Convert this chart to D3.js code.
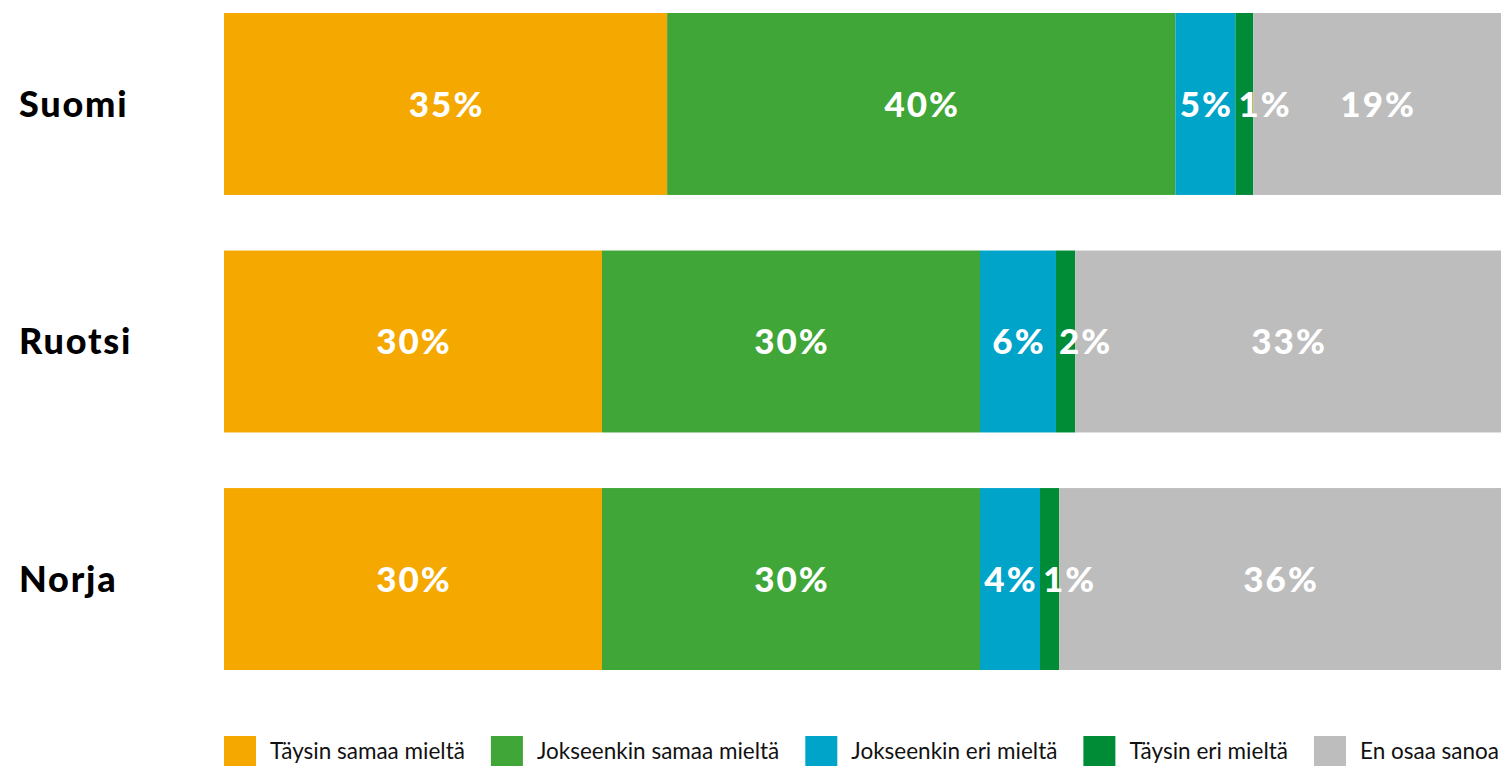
<!DOCTYPE html>
<html>
<head>
<meta charset="utf-8">
<script src="https://cdn.jsdelivr.net/npm/d3@7"></script>
<style>
  html, body { margin: 0; padding: 0; background: #fff; overflow: hidden; }
  svg { display: block; }
</style>
</head>
<body>
<svg id="chart" width="1506" height="766"></svg>
<script>
// ---- data ----
const countries = ["Suomi", "Ruotsi", "Norja"];
const answers = ["Täysin samaa mieltä", "Jokseenkin samaa mieltä", "Jokseenkin eri mieltä", "Täysin eri mieltä", "En osaa sanoa"];
const colors = ["#F5A800", "#40A637", "#00A4C9", "#008C37", "#BDBDBD"];
// segment shares (% of bar)
const suomiValues  = [34.7, 39.8, 4.7, 1.4, 19.4];
const ruotsiValues = [29.6, 29.6, 5.95, 1.5, 33.35];
const norjaValues  = [29.6, 29.6, 4.7, 1.5, 34.6];
// printed labels
const suomiLabels  = ["35%", "40%", "5%", "1%", "19%"];
const ruotsiLabels = ["30%", "30%", "6%", "2%", "33%"];
const norjaLabels  = ["30%", "30%", "4%", "1%", "36%"];

const valuesByCountry = [suomiValues, ruotsiValues, norjaValues];
const labelsByCountry = [suomiLabels, ruotsiLabels, norjaLabels];

const rows = countries.map((c, i) => {
  const obj = { country: c };
  answers.forEach((a, j) => { obj[a] = valuesByCountry[i][j]; });
  return obj;
});

const svg = d3.select("#chart");
const x = d3.scaleLinear().domain([0, 100]).range([224, 1501]);
const y = d3.scaleBand().domain(countries).range([13, 670]).paddingInner(0.234).paddingOuter(0);
const color = d3.scaleOrdinal().domain(answers).range(colors);

const stack = d3.stack().keys(answers);
const series = stack(rows);

const layers = svg.append("g").selectAll("g")
  .data(series).join("g")
  .attr("fill", d => color(d.key));

layers.selectAll("rect")
  .data(d => d.map(p => ({ p, key: d.key })))
  .join("rect")
  .attr("x", d => x(d.p[0]))
  .attr("width", d => x(d.p[1]) - x(d.p[0]))
  .attr("y", d => y(d.p.data.country))
  .attr("height", y.bandwidth());

// value labels
const labelFont = "Lato, 'Open Sans', sans-serif";
const LS = 2;
const lg = svg.append("g");
series.forEach((s, j) => {
  s.forEach((p, i) => {
    const t = lg.append("text")
      .text(labelsByCountry[i][j])
      .attr("fill", "#fff")
      .attr("font-family", labelFont)
      .attr("font-weight", 900)
      .attr("font-size", 35)
      .attr("letter-spacing", LS)
      .attr("y", y(p.data.country) + y.bandwidth() / 2)
      .attr("dy", "0.36em");
    const w = t.node().getComputedTextLength() - LS;
    const x0 = x(p[0]), x1 = x(p[1]);
    if (w + 4 < x1 - x0) {
      t.attr("x", (x0 + x1) / 2 - w / 2).attr("text-anchor", "start");
    } else {
      t.attr("x", x0 + 3).attr("text-anchor", "start");
    }
  });
});

// category labels
svg.append("g").selectAll("text")
  .data(countries).join("text")
  .attr("x", 19)
  .attr("y", d => y(d) + y.bandwidth() / 2)
  .attr("dy", "0.36em")
  .attr("font-family", labelFont)
  .attr("font-weight", 900)
  .attr("font-size", 36)
  .attr("letter-spacing", 1.8)
  .attr("fill", "#000")
  .text(d => d);

// legend
const legend = svg.append("g");
const items = answers.map(a => {
  const g = legend.append("g");
  g.append("rect").attr("width", 32).attr("height", 32).attr("fill", color(a));
  const t = g.append("text")
    .attr("x", 46).attr("y", 23)
    .attr("font-family", labelFont)
    .attr("font-size", 22.5)
    .attr("fill", "#111")
    .text(a);
  return { g, w: t.node().getComputedTextLength() };
});
const totalText = d3.sum(items, d => d.w + 46);
const gap = Math.min(26, (1503 - 224 - totalText) / (items.length - 1));
let lx = 224;
items.forEach(it => {
  it.g.attr("transform", `translate(${lx},736)`);
  lx += 46 + it.w + gap;
});
</script>
</body>
</html>
